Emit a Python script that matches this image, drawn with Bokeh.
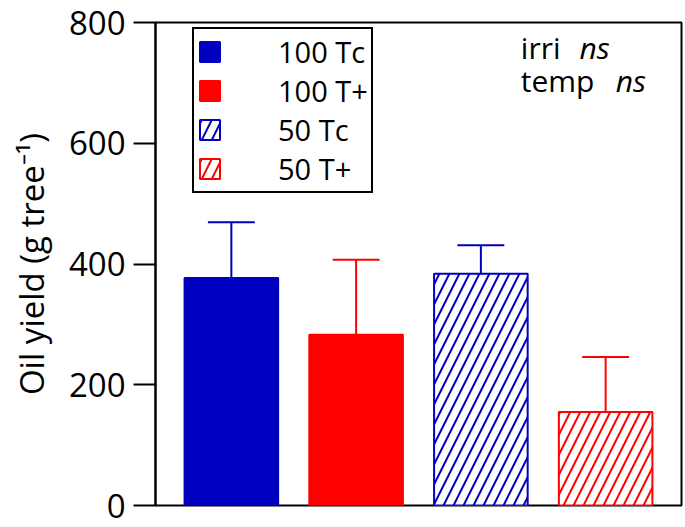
from bokeh.plotting import figure
from bokeh.models import ColumnDataSource, Range1d, Legend, LegendItem, Label, FixedTicker
from bokeh.embed import file_html
from bokeh.resources import INLINE

groups = ["100 Tc", "100 T+", "50 Tc", "50 T+"]
oil_yield = [377, 283, 384, 155]
err = [92, 124, 47, 91]
line_colors = ["#0000C0", "#FF0000", "#0000C0", "#FF0000"]
fill_colors = ["#0000C0", "#FF0000", "white", "white"]
hatches = [" ", " ", "/", "/"]
y_ticks = [0, 200, 400, 600, 800]

FONT = "Open Sans"
xs = list(range(1, len(groups) + 1))
upper = [v + e for v, e in zip(oil_yield, err)]
cap = 0.188
src = ColumnDataSource(dict(
    x=xs, top=oil_yield, upper=upper,
    cl=[x - cap for x in xs], cr=[x + cap for x in xs],
    color=line_colors, fill=fill_colors, hatch=hatches,
))

p = figure(width=685, height=527,
           x_range=Range1d(0.392, 4.608), y_range=Range1d(0, 800),
           output_backend="svg", toolbar_location=None,
           min_border_left=155, min_border_right=4,
           min_border_top=22, min_border_bottom=22)

p.xgrid.visible = False
p.ygrid.visible = False
p.xaxis.visible = False
p.outline_line_color = "black"
p.outline_line_width = 2
p.outline_line_alpha = 1

ax = p.yaxis[0]
ax.ticker = FixedTicker(ticks=y_ticks)
ax.major_tick_out = 22
ax.major_tick_in = 0
ax.minor_tick_line_color = None
ax.axis_line_width = 2
ax.axis_line_color = "black"
ax.major_tick_line_width = 2
ax.major_tick_line_color = "black"
ax.major_label_text_font = FONT
ax.major_label_text_font_size = "33px"
ax.major_label_text_color = "black"
ax.major_label_standoff = 8
ax.axis_label = "Oil yield (g tree\u207b\u00b9)"
ax.axis_label_text_font = FONT
ax.axis_label_text_font_size = "33px"
ax.axis_label_text_font_style = "normal"
ax.axis_label_text_color = "black"
ax.axis_label_standoff = 12

bars = p.vbar(x="x", top="top", bottom=0, width=0.75, source=src,
              fill_color="fill", line_color="color", line_width=2,
              hatch_pattern="hatch", hatch_color="color",
              hatch_scale=20, hatch_weight=2)

p.segment(x0="x", y0="top", x1="x", y1="upper", source=src,
          line_color="color", line_width=2)
p.segment(x0="cl", y0="upper", x1="cr", y1="upper", source=src,
          line_color="color", line_width=2)

legend = Legend(items=[LegendItem(label=g, renderers=[bars], index=i)
                       for i, g in enumerate(groups)],
                location=(37, 312))
legend.border_line_color = "black"
legend.border_line_width = 2
legend.border_line_alpha = 1
legend.padding = 3
legend.spacing = -9
legend.margin = 0
legend.glyph_width = 25
legend.glyph_height = 25
legend.label_height = 25
legend.label_standoff = 56
legend.label_text_font = FONT
legend.label_text_font_size = "29px"
legend.label_text_line_height = 1.0
legend.label_text_color = "black"
legend.background_fill_alpha = 1
p.add_layout(legend)

for x, y, t, style in [(3.32, 759, "irri", "normal"), (3.79, 759, "ns", "italic"),
                       (3.32, 704, "temp", "normal"), (4.08, 704, "ns", "italic")]:
    p.add_layout(Label(x=x, y=y, text=t, text_font=FONT, text_font_size="30px",
                       text_font_style=style, text_baseline="alphabetic",
                       text_color="black"))

open("out.html", "w").write(file_html(p, INLINE))
